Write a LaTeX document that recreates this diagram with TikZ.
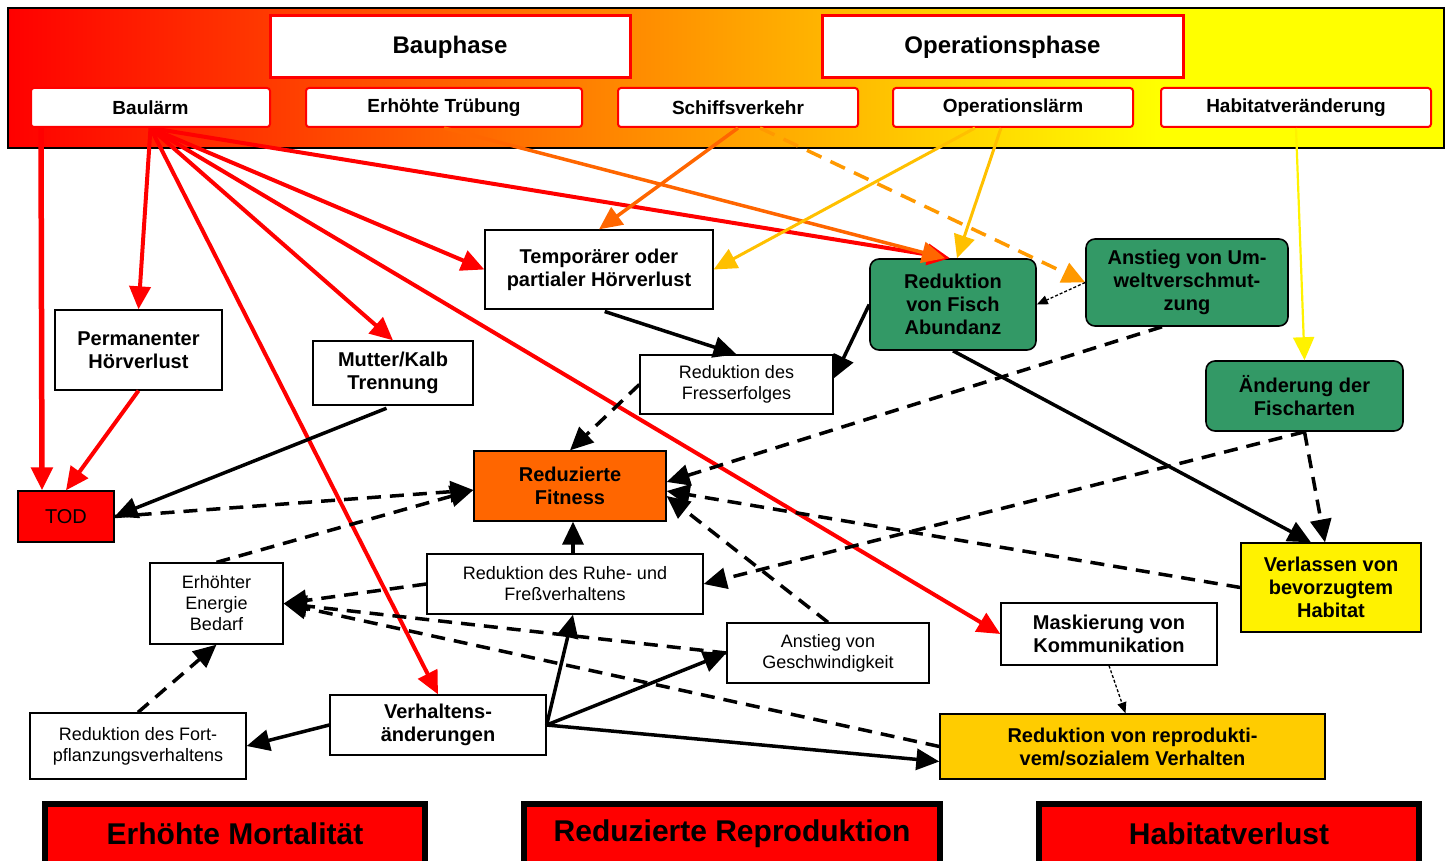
\documentclass[tikz,border=0pt]{standalone}
\usepackage{fontspec}
\setmainfont{Liberation Sans}
\usepackage{tikz}
\usetikzlibrary{positioning,arrows.meta,calc,shapes}
\definecolor{fishgreen}{RGB}{51,153,102}
\definecolor{fitorange}{RGB}{255,102,0}
\definecolor{lightorange}{RGB}{255,153,0}
\definecolor{goldline}{RGB}{255,192,0}
\definecolor{reprogold}{RGB}{255,204,0}
\pgfdeclarehorizontalshading{bandshade}{100bp}{rgb(0bp)=(1,0,0); rgb(25bp)=(1,0,0); rgb(65bp)=(1,1,0); rgb(100bp)=(1,1,0)}
\tikzstyle{arrow} = [line width=3.5pt,-{Triangle[length=23pt,width=21pt]}]

\begin{document}
\begin{tikzpicture}[
    x=1pt, y=-1pt,
    font=\fontsize{18}{21}\selectfont,
    block/.style={
        draw,
        fill=white,
        line width=1.3pt,
        align=center,
        inner sep=2pt
    },
    boldblock/.style={block, font=\fontsize{20}{23}\selectfont\bfseries},
    greenblock/.style={boldblock, fill=fishgreen, rounded corners=9pt, line width=1.6pt},
    causebox/.style={draw=red, fill=white, line width=2pt, rounded corners=3pt,
                     font=\fontsize{19}{22}\selectfont\bfseries},
    phasebox/.style={draw=red, fill=white, line width=3pt,
                     font=\fontsize{24}{27}\selectfont\bfseries},
    effectbox/.style={draw, fill=red, line width=6pt,
                      font=\fontsize{30}{34}\selectfont\bfseries},
    redarrow/.style={arrow, red, line width=4pt},
    dasharrow/.style={arrow, dash pattern=on 14pt off 9pt},
    dotarrow/.style={line width=1.3pt, dash pattern=on 3pt off 2pt,
                     -{Triangle[length=11pt,width=9pt]}}
]
\useasboundingbox (0,0) rectangle (1453,861);

% Kopfleiste mit Phasen und Ursachen
\node[draw, line width=1.3pt, shade, shading=bandshade, minimum width=1436,
      minimum height=140, inner sep=0] (band) at (726,78) {};
\node[phasebox, minimum width=360, minimum height=62] (bau) at (450,47) {Bauphase};
\node[phasebox, minimum width=361, minimum height=62] (oper) at (1002.5,47) {Operationsphase};
\node[causebox, minimum width=239, minimum height=39] (baulaerm) at (150.5,107.5) {Baulärm};
\node[causebox, minimum width=276, minimum height=39] (truebung) at (444,107.5) {Erhöhte Trübung};
\node[causebox, minimum width=240, minimum height=39] (schiff) at (738,107.5) {Schiffsverkehr};
\node[causebox, minimum width=240, minimum height=39] (oplaerm) at (1013,107.5) {Operationslärm};
\node[causebox, minimum width=270, minimum height=39] (habitat) at (1296,107.5) {Habitatveränderung};

% Wirkungen
\node[boldblock, minimum width=167, minimum height=80] (permhv) at (138.5,350) {Permanenter\\Hörverlust};
\node[boldblock, minimum width=160, minimum height=64] (mutter) at (393,373) {Mutter/Kalb\\Trennung};
\node[boldblock, minimum width=228, minimum height=79] (temphv) at (599,269.5) {Temporärer oder\\partialer Hörverlust};
\node[greenblock, minimum width=166, minimum height=91] (fisch) at (953,304.5) {Reduktion\\von Fisch\\Abundanz};
\node[greenblock, minimum width=202, minimum height=87] (umwelt) at (1187,282.5) {Anstieg von Um-\\weltverschmut-\\zung};
\node[greenblock, minimum width=197, minimum height=70] (fischarten) at (1304.5,396) {Änderung der\\Fischarten};
\node[block, minimum width=193, minimum height=59] (fress) at (736.5,384.5) {Reduktion des\\Fresserfolges};
\node[block, fill=red, font=\fontsize{20}{23}\selectfont, minimum width=96, minimum height=51] (tod) at (66,516.5) {TOD};
\node[boldblock, fill=fitorange, minimum width=192, minimum height=70] (fitness) at (570,486) {Reduzierte\\Fitness};
\node[boldblock, fill=yellow, minimum width=180, minimum height=89] (verlassen) at (1331,587.5) {Verlassen von\\bevorzugtem\\Habitat};
\node[block, minimum width=133, minimum height=81] (energie) at (216.5,603.5) {Erhöhter\\Energie\\Bedarf};
\node[block, minimum width=276, minimum height=60] (ruhe) at (565,584) {Reduktion des Ruhe- und\\Freßverhaltens};
\node[block, minimum width=202, minimum height=60] (speed) at (828,653) {Anstieg von\\Geschwindigkeit};
\node[boldblock, minimum width=216, minimum height=62] (mask) at (1109,634) {Maskierung von\\Kommunikation};
\node[block, minimum width=216, minimum height=66] (fortpfl) at (138,746) {Reduktion des Fort-\\pflanzungsverhaltens};
\node[boldblock, minimum width=216, minimum height=60] (verhalten) at (438,725) {Verhaltens-\\änderungen};
\node[boldblock, fill=reprogold, minimum width=385, minimum height=65] (repro) at (1132.5,746.5) {Reduktion von reprodukti-\\vem/sozialem Verhalten};

% Folgen
\node[effectbox, minimum width=380, minimum height=60] (mort) at (235,834) {Erhöhte Mortalität};
\node[effectbox, minimum width=416, minimum height=60] (reprod) at (732,834) {Reduzierte Reproduktion};
\node[effectbox, minimum width=380, minimum height=60] (habverl) at (1229,834) {Habitatverlust};

% Baulärm
\draw[redarrow, line width=5.5pt] ([xshift=11]baulaerm.south west) -- ([xshift=-24]tod.north);
\draw[redarrow] (baulaerm.south) -- (permhv.north);
\draw[redarrow] (baulaerm.south) -- (mutter.north);
\draw[redarrow] (baulaerm.south) -- (temphv.west);
\draw[redarrow] (baulaerm.south) -- ([xshift=-3]fisch.north);
\draw[redarrow] (baulaerm.south) -- (verhalten.north);
\draw[redarrow] (baulaerm.south) -- (mask.west);
\draw[redarrow] (permhv.south) -- (tod.north);

% Trübung, Schiffsverkehr, Betrieb
\draw[arrow, fitorange] (truebung.south) -- ([xshift=-8]fisch.north);
\draw[arrow, fitorange] (schiff.south) -- (temphv.north);
\draw[arrow, lightorange, dash pattern=on 16pt off 10pt] ([xshift=22]schiff.south) -- (umwelt.west);
\draw[arrow, goldline, line width=3pt] ([xshift=-38]oplaerm.south) -- (temphv.east);
\draw[arrow, goldline, line width=3pt] ([xshift=-12]oplaerm.south) -- ([xshift=4]fisch.north);
\draw[arrow, yellow, line width=2.2pt] (habitat.south) -- (fischarten.north);

% Folgeketten
\draw[arrow, shorten <=6pt] (temphv.south) -- (fress.north);
\draw[arrow] (fisch.west) -- ([yshift=6]fress.east);
\draw[dotarrow] (umwelt.west) -- (fisch.east);
\draw[arrow, shorten <=7pt] (mutter.south) -- (tod.east);
\draw[dasharrow] (fress.west) -- (fitness.north);
\draw[dasharrow] (tod.east) -- ([yshift=-4]fitness.west);
\draw[dasharrow] (energie.north) -- ([yshift=-4]fitness.west);
\draw[dasharrow] (verlassen.west) -- ([yshift=-5]fitness.east);
\draw[dasharrow] ([xshift=-25]umwelt.south) -- ([yshift=4]fitness.east);
\draw[dasharrow] (speed.north) -- ([yshift=-10]fitness.east);
\draw[dasharrow] (fischarten.south) -- (ruhe.east);
\draw[dasharrow] (fischarten.south) -- ([xshift=-6]verlassen.north);
\draw[arrow] (fisch.south) -- ([xshift=-20]verlassen.north);
\draw[arrow] ([xshift=8]ruhe.north) -- ([xshift=3]fitness.south);
\draw[dasharrow] (ruhe.west) -- (energie.east);
\draw[dasharrow] (speed.west) -- (energie.east);
\draw[dasharrow] (repro.west) -- (energie.east);
\draw[dasharrow] (fortpfl.north) -- (energie.south);
\draw[arrow] (verhalten.west) -- (fortpfl.east);
\draw[arrow] (verhalten.east) -- ([xshift=8]ruhe.south);
\draw[arrow] (verhalten.east) -- (speed.west);
\draw[arrow] (verhalten.east) -- ([yshift=-15]repro.west);
\draw[dotarrow] (mask.south) -- ([xshift=-7]repro.north);

\end{tikzpicture}
\end{document}
